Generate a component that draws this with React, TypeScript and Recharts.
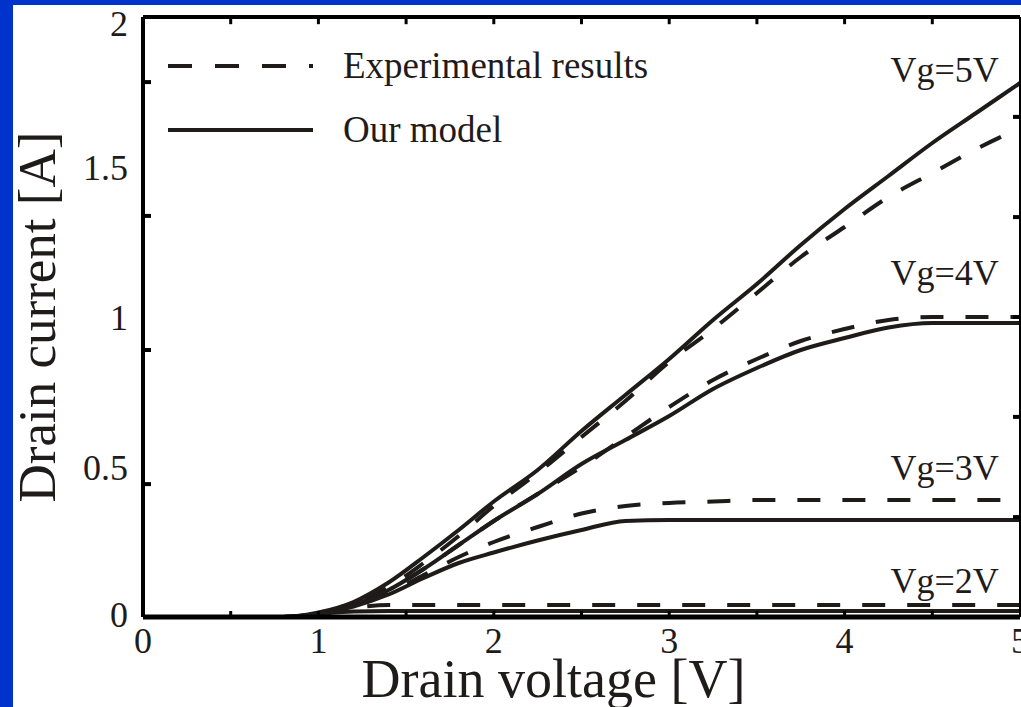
import { LineChart, Line, XAxis, YAxis, Legend, ReferenceDot, ReferenceLine } from "recharts";

const FONT = '"Liberation Serif", "Times New Roman", serif';
const INK = "#1f1b1b";

// drain voltage sample points [V]
const vds = [0, 0.5, 0.8, 1, 1.2, 1.4, 1.6, 1.8, 2, 2.25, 2.5, 2.75, 3, 3.25, 3.5, 3.75, 4, 4.25, 4.5, 4.75, 5];

// drain current [A], measured
const expVg5 = [0, 0, 0, 0.012, 0.045, 0.1, 0.18, 0.27, 0.37, 0.48, 0.6, 0.72, 0.85, 0.96, 1.08, 1.2, 1.3, 1.4, 1.48, 1.56, 1.63];
const expVg4 = [0, 0, 0, 0.012, 0.04, 0.09, 0.16, 0.24, 0.32, 0.41, 0.5, 0.6, 0.7, 0.79, 0.86, 0.92, 0.96, 0.99, 1.0, 1.0, 1.0];
const expVg3 = [0, 0, 0, 0.01, 0.035, 0.08, 0.14, 0.2, 0.25, 0.3, 0.345, 0.37, 0.38, 0.385, 0.39, 0.39, 0.39, 0.39, 0.39, 0.39, 0.39];
const expVg2 = [0, 0, 0, 0.01, 0.03, 0.04, 0.04, 0.04, 0.04, 0.04, 0.04, 0.04, 0.04, 0.04, 0.04, 0.04, 0.04, 0.04, 0.04, 0.04, 0.04];

// drain current [A], model
const modelVg5 = [0, 0, 0, 0.015, 0.05, 0.115, 0.2, 0.29, 0.385, 0.49, 0.62, 0.74, 0.86, 0.99, 1.11, 1.24, 1.36, 1.47, 1.58, 1.68, 1.78];
const modelVg4 = [0, 0, 0, 0.012, 0.04, 0.09, 0.16, 0.24, 0.32, 0.41, 0.51, 0.59, 0.67, 0.76, 0.83, 0.89, 0.93, 0.965, 0.98, 0.98, 0.98];
const modelVg3 = [0, 0, 0, 0.01, 0.035, 0.075, 0.13, 0.18, 0.215, 0.255, 0.29, 0.32, 0.323, 0.323, 0.323, 0.323, 0.323, 0.323, 0.323, 0.323, 0.323];
const modelVg2 = [0, 0, 0, 0.01, 0.018, 0.02, 0.02, 0.02, 0.02, 0.02, 0.02, 0.02, 0.02, 0.02, 0.02, 0.02, 0.02, 0.02, 0.02, 0.02, 0.02];

// axis ticks
const xTicks = [0, 0.5, 1, 1.5, 2, 2.5, 3, 3.5, 4, 4.5, 5];
const xMarkTicks = [0.5, 1, 1.5, 2, 2.5, 3, 3.5, 4, 4.5];
const yLabelTicks = [0, 0.5, 1, 1.5, 2];
const yLeftMarks = [0.443, 0.89, 1.337, 1.783];
const yRightMarks = [0.333, 0.667, 1, 1.333, 1.667];

// gate voltage annotations
const gateLabels = [
  { text: "Vg=5V", v: 4.57, i: 1.827 },
  { text: "Vg=4V", v: 4.57, i: 1.15 },
  { text: "Vg=3V", v: 4.57, i: 0.5 },
  { text: "Vg=2V", v: 4.57, i: 0.123 },
];

const legendItems = [
  { name: "Experimental results", dash: "24 23" },
  { name: "Our model", dash: undefined as string | undefined },
];

const toPts = (ys: number[]) => vds.map((v, k) => ({ v, i: ys[k] }));

const series = [
  { key: "e5", data: toPts(expVg5), dash: "23 22" },
  { key: "m5", data: toPts(modelVg5) },
  { key: "e4", data: toPts(expVg4), dash: "23 22" },
  { key: "m4", data: toPts(modelVg4) },
  { key: "e3", data: toPts(expVg3), dash: "23 22" },
  { key: "m3", data: toPts(modelVg3) },
  { key: "e2", data: toPts(expVg2), dash: "23 22" },
  { key: "m2", data: toPts(modelVg2) },
];

const Y_MAX = 2;
const TOP_MARK_LEN = 0.024; // length of the inward top-frame marks, in amps
const X_TICK_GAP = 10;

// frame axes only carry inward tick marks, no text
const NoText = () => <g />;

// bottom axis: inward mark every 0.5 V, number on whole volts
function XTick(props: any) {
  const { x, y, payload } = props;
  const axisY = y - X_TICK_GAP;
  const v = payload.value;
  return (
    <g>
      {v > 0 && v < 5 && <line x1={x} x2={x} y1={axisY} y2={axisY - 6} stroke="#000" strokeWidth={3} />}
      {Number.isInteger(v) && (
        <text x={x} y={y} dy="0.71em" textAnchor="middle" fill={INK} fontSize={36} fontFamily={FONT}>
          {v}
        </text>
      )}
    </g>
  );
}

function LegendBox() {
  return (
    <div style={{ fontFamily: FONT, fontSize: 37, color: INK }}>
      {legendItems.map((it, k) => (
        <div
          key={it.name}
          style={{ display: "flex", alignItems: "center", height: 40, marginBottom: k === 0 ? 24 : 0 }}
        >
          <svg width={145} height={6} style={{ display: "block" }}>
            <line x1={0} y1={3} x2={145} y2={3} stroke={INK} strokeWidth={4} strokeDasharray={it.dash} />
          </svg>
          <span style={{ marginLeft: 30, lineHeight: "40px", whiteSpace: "nowrap" }}>{it.name}</span>
        </div>
      ))}
    </div>
  );
}

function XTitle(props: any) {
  const vb = props.viewBox;
  return (
    <text
      x={vb.x + vb.width / 2 - 28}
      y={vb.y + vb.height - 10}
      textAnchor="middle"
      fontFamily={FONT}
      fontSize={54}
      fill={INK}
    >
      Drain voltage [V]
    </text>
  );
}

function YTitle(props: any) {
  const vb = props.viewBox;
  const cx = vb.x + 42;
  const cy = vb.y + vb.height / 2;
  return (
    <text
      x={cx}
      y={cy}
      transform={`rotate(-90, ${cx}, ${cy})`}
      textAnchor="middle"
      fontFamily={FONT}
      fontSize={53}
      fill={INK}
    >
      Drain current [A]
    </text>
  );
}

function YTick(props: any) {
  const { x, y, payload } = props;
  // keep the top label inside the frame
  const shift = payload.value === 2 ? 6 : payload.value === 0 ? -3 : 0;
  return (
    <text x={x} y={y + shift} dy="0.355em" textAnchor="end" fill={INK} fontSize={36} fontFamily={FONT}>
      {payload.value}
    </text>
  );
}

export default function App() {
  return (
    <div style={{ position: "absolute", left: 0, top: 0, width: 1021, height: 707, background: "#0033cc", overflow: "hidden" }}>
      <div style={{ position: "absolute", left: 13, top: 5, width: 1008, height: 702, background: "#fff" }}>
        <LineChart width={1008} height={702} margin={{ top: 12, right: 1, bottom: 0, left: 0 }}>
          <XAxis
            xAxisId="x"
            type="number"
            dataKey="v"
            domain={[0, 5]}
            allowDataOverflow
            ticks={xTicks}
            interval={0}
            tick={<XTick />}
            tickLine={false}
            tickSize={0}
            tickMargin={X_TICK_GAP}
            axisLine={{ stroke: "#000", strokeWidth: 5 }}
            height={90}
            label={<XTitle />}
          />
          <XAxis
            xAxisId="xt"
            type="number"
            domain={[0, 5]}
            allowDataOverflow
            orientation="top"
            mirror
            tick={false}
            tickLine={false}
            axisLine={{ stroke: "#000", strokeWidth: 4 }}
          />
          <YAxis
            yAxisId="y"
            type="number"
            domain={[0, Y_MAX]}
            allowDataOverflow
            ticks={yLabelTicks}
            interval={0}
            tick={<YTick />}
            tickLine={false}
            tickSize={0}
            tickMargin={15}
            axisLine={{ stroke: "#000", strokeWidth: 4 }}
            width={130}
            label={<YTitle />}
          />
          <YAxis
            yAxisId="yl"
            type="number"
            domain={[0, Y_MAX]}
            allowDataOverflow
            mirror
            ticks={yLeftMarks}
            interval={0}
            tick={<NoText />}
            tickSize={8}
            tickLine={{ stroke: "#000", strokeWidth: 4 }}
            axisLine={false}
          />
          <YAxis
            yAxisId="yr"
            type="number"
            orientation="right"
            domain={[0, Y_MAX]}
            allowDataOverflow
            mirror
            ticks={yRightMarks}
            interval={0}
            tick={<NoText />}
            tickSize={7}
            tickLine={{ stroke: "#000", strokeWidth: 4 }}
            axisLine={{ stroke: "#000", strokeWidth: 2 }}
          />

          {/* inward marks hanging from the top frame */}
          {xMarkTicks.map((v) => (
            <ReferenceLine
              key={`tm${v}`}
              xAxisId="x"
              yAxisId="y"
              segment={[
                { x: v, y: Y_MAX },
                { x: v, y: Y_MAX - TOP_MARK_LEN },
              ]}
              stroke="#000"
              strokeWidth={3}
              ifOverflow="visible"
            />
          ))}

          {series.map((s) => (
            <Line
              key={s.key}
              xAxisId="x"
              yAxisId="y"
              data={s.data}
              dataKey="i"
              type="monotone"
              stroke={INK}
              strokeWidth={4}
              strokeDasharray={s.dash}
              dot={false}
              activeDot={false}
              isAnimationActive={false}
            />
          ))}

          {gateLabels.map((g) => (
            <ReferenceDot
              key={g.text}
              xAxisId="x"
              yAxisId="y"
              x={g.v}
              y={g.i}
              r={0}
              fill="none"
              stroke="none"
              label={{ value: g.text, position: "center", fill: INK, fontSize: 36, fontFamily: FONT }}
            />
          ))}

          <Legend
            layout="vertical"
            align="center"
            verticalAlign="middle"
            content={<LegendBox />}
            wrapperStyle={{ left: 155, top: 41, width: "auto" }}
          />
        </LineChart>
      </div>
    </div>
  );
}
